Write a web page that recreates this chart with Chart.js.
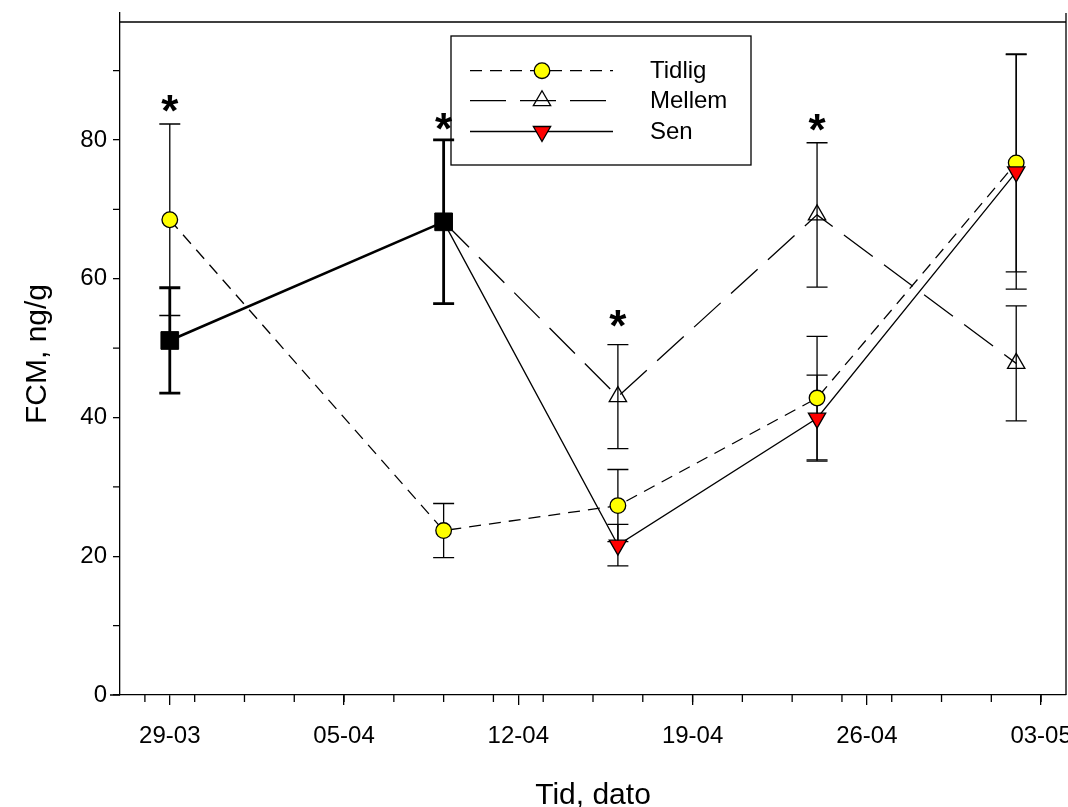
<!DOCTYPE html>
<html><head><meta charset="utf-8">
<script src="https://cdn.jsdelivr.net/npm/chart.js@4.4.1/dist/chart.umd.min.js"></script>
<style>html,body{margin:0;padding:0;background:#fff;}#wrap{width:1068px;height:807px;}</style>
</head><body><div id="wrap"><canvas id="c" width="1068" height="807"></canvas></div>
<script>
const FONT = "'Liberation Sans', Arial, sans-serif";
// x values are days after 29-03
const tickDays = [0, 7, 14, 21, 28, 35];
const tickLabels = ['29-03', '05-04', '12-04', '19-04', '26-04', '03-05'];
const minorDays = [-1, 1, 3, 5, 7, 9, 11, 13, 15, 17, 19, 21, 23, 25, 27, 29, 31, 33, 35];
const yTicks = [0, 20, 40, 60, 80];
const yMinor = [10, 30, 50, 70, 90];

const tidligDays = [0, 11, 18, 26, 34];
const tidligMean = [68.5, 23.7, 27.3, 42.8, 76.7];
const tidligErr = [13.8, 3.9, 5.2, 8.9, 15.7];

const mellemDays = [11, 18, 26, 34];
const mellemMean = [68.2, 43.0, 69.2, 47.8];
const mellemErr = [0, 7.5, 10.4, 8.3];

const senDays = [11, 18, 26, 34];
const senMean = [68.2, 21.6, 39.9, 75.4];
const senErr = [0, 3.0, 6.2, 16.9];

const samletDays = [0, 11];
const samletMean = [51.1, 68.2];
const samletErr = [7.6, 11.8];

const starDays = [0, 11, 18, 26];
const starLevel = [85.2, 82.6, 54.3, 82.5];

const frameTop = 97;
const AREA = {left: 120, right: 1066, top: 13, bottom: 695};

function pts(xs, ys) { return xs.map((x, i) => ({x: x, y: ys[i]})); }

const errorBarPlugin = {
  id: 'errorBars',
  beforeDatasetsDraw(chart) {
    const {ctx, scales: {x, y}} = chart;
    chart.data.datasets.forEach(ds => {
      if (!ds.errors) return;
      ctx.save();
      ctx.strokeStyle = '#000';
      ctx.lineWidth = ds.errWidth;
      ctx.setLineDash([]);
      ds.data.forEach((p, i) => {
        const e = ds.errors[i];
        if (!e) return;
        const px = x.getPixelForValue(p.x);
        const top = y.getPixelForValue(p.y + e);
        const bot = y.getPixelForValue(p.y - e);
        ctx.beginPath();
        ctx.moveTo(px, top); ctx.lineTo(px, bot);
        ctx.moveTo(px - 10.5, top); ctx.lineTo(px + 10.5, top);
        ctx.moveTo(px - 10.5, bot); ctx.lineTo(px + 10.5, bot);
        ctx.stroke();
      });
      ctx.restore();
    });
  }
};

function drawMarker(ctx, ds, x, y) {
  ctx.save();
  ctx.setLineDash([]);
  ctx.lineWidth = ds.pointBorderWidth;
  ctx.strokeStyle = ds.pointBorderColor;
  ctx.fillStyle = ds.pointBackgroundColor;
  const r = Array.isArray(ds.pointRadius) ? ds.pointRadius[ds.pointRadius.length - 1] : ds.pointRadius;
  ctx.beginPath();
  if (ds.pointStyle === 'circle') {
    ctx.arc(x, y, r, 0, Math.PI * 2);
  } else if (ds.pointStyle === 'triangle') {
    const s = ds.pointRotation === 180 ? -1 : 1;
    ctx.moveTo(x, y - s * r);
    ctx.lineTo(x + r * Math.sin(2 * Math.PI / 3), y + s * r / 2);
    ctx.lineTo(x - r * Math.sin(2 * Math.PI / 3), y + s * r / 2);
    ctx.closePath();
  }
  ctx.fill();
  ctx.stroke();
  ctx.restore();
}

const decorPlugin = {
  id: 'decor',
  afterDraw(chart) {
    const {ctx, chartArea: ca, scales: {x, y}} = chart;
    ctx.save();
    ctx.strokeStyle = '#000';
    ctx.lineWidth = 1.3;
    const yt = y.getPixelForValue(frameTop);
    ctx.beginPath();
    ctx.moveTo(ca.left, yt); ctx.lineTo(ca.right, yt);
    ctx.moveTo(ca.right, ca.top); ctx.lineTo(ca.right, ca.bottom);
    ctx.moveTo(ca.left - 10, ca.bottom); ctx.lineTo(ca.left, ca.bottom);
    ctx.stroke();
    ctx.beginPath();
    minorDays.forEach(d => {
      const px = x.getPixelForValue(d);
      ctx.moveTo(px, ca.bottom); ctx.lineTo(px, ca.bottom + 7);
    });
    yMinor.forEach(v => {
      const py = y.getPixelForValue(v);
      ctx.moveTo(ca.left - 7, py); ctx.lineTo(ca.left, py);
    });
    ctx.stroke();
    ctx.fillStyle = '#000';
    ctx.font = 'bold 44px ' + FONT;
    ctx.textAlign = 'center';
    ctx.textBaseline = 'alphabetic';
    const m = ctx.measureText('*');
    starDays.forEach((d, i) => {
      const px = x.getPixelForValue(d);
      const py = y.getPixelForValue(starLevel[i]);
      ctx.fillText('*', px, py + (m.actualBoundingBoxAscent - m.actualBoundingBoxDescent) / 2);
    });
    const L = {l: 451, t: 36, r: 751, b: 165};
    ctx.strokeRect(L.l, L.t, L.r - L.l, L.b - L.t);
    const rows = [70.7, 100.7, 131.5];
    ctx.font = '24px ' + FONT;
    ctx.textAlign = 'left';
    ctx.textBaseline = 'middle';
    [0, 1, 2].forEach((di, k) => {
      const ds = chart.data.datasets[di];
      const ry = rows[k];
      ctx.save();
      ctx.lineWidth = ds.borderWidth;
      ctx.setLineDash(ds.borderDash || []);
      ctx.beginPath();
      ctx.moveTo(470, ry); ctx.lineTo(613, ry);
      ctx.stroke();
      ctx.restore();
      drawMarker(ctx, ds, 542, ry);
      ctx.fillText(ds.label, 650, ry + 1);
    });
    ctx.restore();
  }
};

const chart = new Chart(document.getElementById('c'), {
  type: 'line',
  data: {
    datasets: [
      {
        label: 'Tidlig', data: pts(tidligDays, tidligMean), errors: tidligErr, errWidth: 1.3,
        borderColor: '#000', borderWidth: 1.3, borderDash: [12, 8], fill: false, tension: 0,
        pointStyle: 'circle', pointRadius: 7.8, pointBackgroundColor: '#ffff00',
        pointBorderColor: '#000', pointBorderWidth: 1.3, order: 3
      },
      {
        label: 'Mellem', data: pts(mellemDays, mellemMean), errors: mellemErr, errWidth: 1.3,
        borderColor: '#000', borderWidth: 1.3, borderDash: [36, 14], fill: false, tension: 0,
        pointStyle: 'triangle', pointRadius: [0, 10, 10, 10], pointBackgroundColor: 'rgba(0,0,0,0)',
        pointBorderColor: '#000', pointBorderWidth: 1.3, order: 2
      },
      {
        label: 'Sen', data: pts(senDays, senMean), errors: senErr, errWidth: 1.3,
        borderColor: '#000', borderWidth: 1.3, fill: false, tension: 0,
        pointStyle: 'triangle', pointRotation: 180, pointRadius: [0, 10, 10, 10], pointBackgroundColor: '#ff0000',
        pointBorderColor: '#000', pointBorderWidth: 1.3, order: 1
      },
      {
        label: 'Samlet', data: pts(samletDays, samletMean), errors: samletErr, errWidth: 2.8,
        borderColor: '#000', borderWidth: 2.6, fill: false, tension: 0,
        pointStyle: 'rect', pointRadius: 12.5, pointBackgroundColor: '#000',
        pointBorderColor: '#000', pointBorderWidth: 1, order: 0
      }
    ]
  },
  options: {
    responsive: false, animation: false, events: [],
    layout: {autoPadding: false, padding: {top: 13, right: 2, left: 0, bottom: 0}},
    plugins: {legend: {display: false}, tooltip: {enabled: false}},
    scales: {
      x: {
        type: 'linear', min: -2, max: 36,
        afterBuildTicks: s => { s.ticks = tickDays.map(v => ({value: v})); },
        afterFit: s => { s.height = 112; s.paddingLeft = 0; s.paddingRight = 0; },
        ticks: {
          callback: v => tickLabels[tickDays.indexOf(v)],
          font: {family: FONT, size: 24}, color: '#000', padding: 17, maxRotation: 0, autoSkip: false
        },
        grid: {drawOnChartArea: false, drawTicks: true, tickLength: 10, color: '#000', lineWidth: 1.3},
        border: {display: true, color: '#000', width: 1.3},
        title: {display: true, text: 'Tid, dato', color: '#000',
                font: {family: FONT, size: 30, lineHeight: 1}, padding: {top: 0, bottom: -4}}
      },
      y: {
        type: 'linear', min: 0, max: 98.3,
        afterBuildTicks: s => { s.ticks = yTicks.map(v => ({value: v})); },
        afterFit: s => { s.width = 120; s.paddingTop = 0; s.paddingBottom = 0; },
        ticks: {font: {family: FONT, size: 24}, color: '#000', padding: 6},
        grid: {drawOnChartArea: false, drawTicks: true, tickLength: 7, color: '#000', lineWidth: 1.3},
        border: {display: true, color: '#000', width: 1.3},
        title: {display: true, text: 'FCM, ng/g', color: '#000',
                font: {family: FONT, size: 30, lineHeight: 1}, padding: {top: 23, bottom: 0}}
      }
    }
  },
  plugins: [errorBarPlugin, decorPlugin]
});

// nudge layout padding so the plot area lands where the reference has it
for (let k = 0; k < 4; k++) {
  const ca = chart.chartArea;
  const p = chart.options.layout.padding;
  const dl = ca.left - AREA.left, dr = ca.right - AREA.right, dt = ca.top - AREA.top, db = ca.bottom - AREA.bottom;
  if (Math.abs(dl) + Math.abs(dr) + Math.abs(dt) + Math.abs(db) < 0.3) break;
  p.left -= dl; p.right += dr; p.top -= dt; p.bottom += db;
  chart.update();
}
</script>
</body></html>
